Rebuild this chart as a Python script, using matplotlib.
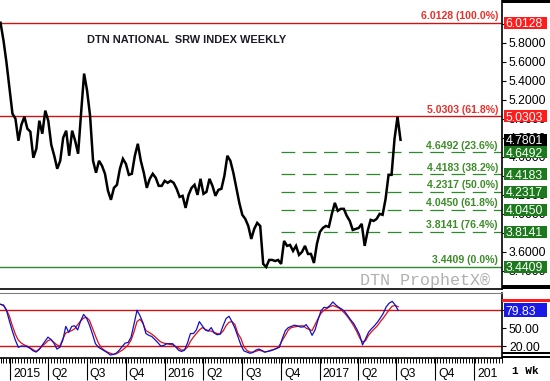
import matplotlib
matplotlib.use('Agg')
import matplotlib.pyplot as plt
import matplotlib.dates as mdates
from matplotlib.transforms import blended_transform_factory, ScaledTranslation, Bbox, TransformedBbox
from matplotlib.patches import Rectangle
import numpy as np
import pandas as pd

plt.rcParams['font.family'] = ['Liberation Sans', 'DejaVu Sans']

# weekly closes, DTN National SRW index
dates = pd.date_range('2014-12-10', periods=135, freq='7D')
price = [6.0128, 5.825, 5.593, 5.319, 5.055, 5.002, 4.770, 4.939, 5.023, 4.897,
         4.865, 4.591, 4.686, 4.981, 4.844, 5.087, 4.981, 4.728, 4.612, 4.475,
         4.559, 4.802, 4.876, 4.612, 4.876, 4.770, 4.633, 5.065, 5.477, 5.298,
         5.034, 4.559, 4.433, 4.559, 4.506, 4.422, 4.243, 4.148, 4.274, 4.306,
         4.475, 4.580, 4.527, 4.411, 4.422, 4.612, 4.738, 4.559, 4.433, 4.274,
         4.369, 4.422, 4.380, 4.295, 4.295, 4.348, 4.327, 4.348, 4.327, 4.264,
         4.179, 4.190, 4.063, 4.200, 4.274, 4.306, 4.200, 4.369, 4.211, 4.232,
         4.369, 4.295, 4.190, 4.253, 4.264, 4.401, 4.612, 4.559, 4.433, 4.274,
         4.116, 3.990, 3.947, 3.873, 3.736, 3.842, 3.905, 3.873, 3.473, 3.4409,
         3.515, 3.515, 3.504, 3.515, 3.473, 3.715, 3.663, 3.673, 3.610, 3.663,
         3.568, 3.599, 3.663, 3.578, 3.578, 3.483, 3.684, 3.810, 3.852, 3.873,
         3.863, 4.000, 4.116, 4.032, 4.053, 4.053, 3.979, 3.926, 3.831, 3.842,
         3.852, 3.895, 3.663, 3.821, 3.937, 3.926, 3.947, 4.000, 3.990, 4.158,
         4.411, 4.411, 4.791, 5.0225, 4.7801]

# stochastic oscillator (fast %K blue, slow %D red)
stoch_k = [90, 88, 80, 62, 45, 30, 18, 20, 20, 19, 16, 12, 10, 14, 21, 28, 35, 31, 25, 15,
           18, 30, 53, 43, 53, 54, 47, 62, 73, 67, 55, 40, 24, 18, 15, 12, 9, 5, 6, 8,
           13, 19, 25, 26, 35, 57, 80, 71, 59, 41, 38, 36, 31, 26, 20, 21, 24, 24, 24, 19,
           13, 11, 13, 25, 41, 41, 47, 61, 54, 47, 45, 51, 42, 39, 40, 54, 66, 70, 61, 50,
           36, 22, 12, 10, 8, 9, 13, 15, 13, 10, 11, 12, 14, 16, 18, 33, 46, 51, 53, 55,
           54, 52, 52, 56, 49, 38, 47, 64, 79, 85, 84, 88, 94, 89, 85, 82, 78, 71, 64, 58,
           49, 39, 22, 32, 43, 49, 54, 60, 67, 75, 86, 92, 95, 89, 79.83]
stoch_d = [90, 89, 81, 70, 54, 40, 30, 25, 22, 20, 17, 14, 11, 15, 20, 24, 29, 31, 26, 22,
           20, 32, 42, 44, 46, 49, 56, 62, 67, 68, 63, 50, 37, 25, 17, 13, 10, 8, 6, 7,
           10, 13, 17, 22, 30, 44, 61, 65, 58, 46, 43, 40, 36, 31, 27, 25, 24, 23, 22, 19,
           17, 13, 14, 18, 28, 35, 41, 47, 51, 48, 46, 45, 43, 41, 40, 45, 54, 60, 61, 56,
           41, 33, 19, 13, 10, 10, 11, 13, 12, 10, 11, 13, 14, 16, 21, 30, 38, 47, 51, 52,
           53, 54, 54, 50, 48, 46, 56, 66, 75, 80, 83, 86, 88, 86, 84, 80, 75, 69, 62, 54,
           45, 34, 27, 29, 38, 44, 49, 54, 61, 67, 74, 81, 87, 88, 86]

fib_levels = [6.0128, 5.0303, 4.6492, 4.4183, 4.2317, 4.0450, 3.8141, 3.4409]
fib_text = ['6.0128 (100.0%)', '5.0303 (61.8%)', '4.6492 (23.6%)', '4.4183 (38.2%)',
            '4.2317 (50.0%)', '4.0450 (61.8%)', '3.8141 (76.4%)', '3.4409 (0.0%)']
fib_kind = ['red', 'red', 'dash', 'dash', 'dash', 'dash', 'dash', 'base']

quarter_dates = pd.date_range('2015-01-01', '2018-01-01', freq='QS')
quarter_labels = ['2015', 'Q2', 'Q3', 'Q4', '2016', 'Q2', 'Q3', 'Q4',
                  '2017', 'Q2', 'Q3', 'Q4', '2018']

W, H = 550, 381
RED = '#cc1414'
RED_TXT = '#e8302c'
GREEN = '#2d8a2d'
GREEN_TXT = '#3d8c2a'
GREEN_BOX = '#1c7a1c'
FS = 8.8


def fy(py):
    return 1 - py / H


fig = plt.figure(figsize=(W / 100, H / 100), dpi=100)
ax = fig.add_axes([0, fy(289), 502 / W, 289 / H])
ax2 = fig.add_axes([0, fy(358), 502 / W, (358 - 293) / H])

x0 = mdates.date2num(dates[0])
xlim = (x0 - 1.2, x0 + 1176)

# ---- price panel
ax.plot(dates, price, color='black', lw=1.8, solid_joinstyle='miter', zorder=4)
ax.set_xlim(xlim)
ax.set_ylim(3.209, 6.252)
for s in ['left', 'top']:
    ax.spines[s].set_visible(False)
ax.spines['right'].set_linewidth(1.2)
ax.spines['bottom'].set_linewidth(1.2)
ax.set_xticks([])
ax.yaxis.tick_right()
ax.set_yticks(np.arange(3.4, 6.01, 0.2))
ax.yaxis.set_major_formatter(matplotlib.ticker.FormatStrFormatter('%.4f'))
ax.tick_params(axis='y', direction='out', length=3, width=0.8, pad=2, labelsize=FS)

low_i = int(np.argmin(price))
fib_start = dates[low_i + 5]
lab_tr = blended_transform_factory(ax.transAxes, ax.transData) + \
    ScaledTranslation(0, 3.5 / 100, fig.dpi_scale_trans)
for v, t, k in zip(fib_levels, fib_text, fib_kind):
    if k == 'red':
        ax.axhline(v, color=RED, lw=1.0)
        c = RED_TXT
    elif k == 'base':
        ax.axhline(v, color=GREEN, lw=1.0)
        c = GREEN_TXT
    else:
        ax.plot([fib_start, mdates.num2date(xlim[1])], [v, v], color=GREEN, lw=0.9,
                dashes=(11, 6))
        c = GREEN_TXT
    ax.text(0.992, v, t, transform=lab_tr, ha='right', va='baseline', color=c,
            fontsize=7.6, fontweight='bold')

ax.text(87 / 502, 1 - 40 / 289, 'DTN NATIONAL  SRW INDEX WEEKLY', transform=ax.transAxes,
        ha='left', va='center', fontsize=7.9, fontweight='bold', color='#1c1c28')
ax.text(490 / 502, 4 / 289, 'DTN ProphetX\u00ae', transform=ax.transAxes, ha='right',
        va='baseline', color='#b0b0b0', family='Liberation Mono', fontsize=12)

# ---- oscillator panel
ax2.plot(dates, stoch_k, color='#1010c8', lw=0.9, zorder=4)
ax2.plot(dates, stoch_d, color='#dd1010', lw=0.9, zorder=3)
ax2.axhline(80, color=RED, lw=1.0)
ax2.axhline(20, color=RED, lw=1.0)
ax2.set_xlim(xlim)
ax2.set_ylim(0, 109)
ax2.spines['left'].set_visible(False)
ax2.spines['top'].set_color('#808080')
ax2.spines['right'].set_linewidth(1.2)
ax2.spines['bottom'].set_linewidth(1.2)
ax2.yaxis.tick_right()
ax2.set_yticks([20, 50, 80])
ax2.yaxis.set_major_formatter(matplotlib.ticker.FormatStrFormatter('%.2f'))
ax2.tick_params(axis='y', direction='out', length=3, width=0.8, pad=2, labelsize=FS)

ax2.set_xticks(mdates.date2num(quarter_dates))
ax2.set_xticklabels([])
weeks = pd.date_range(dates[0], periods=170, freq='7D')
ax2.set_xticks(mdates.date2num(weeks), minor=True)
ax2.tick_params(axis='x', which='major', direction='out', length=16, width=0.8)
ax2.tick_params(axis='x', which='minor', direction='out', length=3.5, width=0.7)
q_tr = blended_transform_factory(ax2.transData, fig.transFigure) + \
    ScaledTranslation(3.2 / 100, 0, fig.dpi_scale_trans)
q_clip = TransformedBbox(Bbox([[0, 0], [497.5 / W, 1]]), fig.transFigure)
for d, lab in zip(quarter_dates, quarter_labels):
    t = ax2.text(d, fy(374), lab, transform=q_tr, ha='left', va='center', fontsize=FS)
    t.set_clip_box(q_clip)
    t.set_clip_on(True)

# ---- right column value boxes
fig.canvas.draw()


def value_box(axis, v, txt, fc, h=12):
    ypix = axis.transData.transform((x0, v))[1]
    yc = ypix / H
    fig.add_artist(Rectangle((504 / W, yc - h / 2 / H), 43 / W, h / H,
                             transform=fig.transFigure, fc=fc, ec='none', zorder=3))
    fig.text(505.5 / W, yc, txt, color='white', ha='left', va='center_baseline',
             fontsize=FS, zorder=4)


for v, k in zip(fib_levels, fib_kind):
    value_box(ax, v, '%.4f' % v, '#ff1c1c' if k == 'red' else GREEN_BOX)
value_box(ax, price[-1], '%.4f' % price[-1], 'black')
value_box(ax2, stoch_k[-1], '%.2f' % stoch_k[-1], '#1a1ae6', h=14)

bars = [(0, 3.2, 'black'), (285, 4, 'black'), (299, 3, '#ff1c1c'),
        (352, 1.5, 'black'), (355.5, 2.5, 'black')]
for top, hh, c in bars:
    fig.add_artist(Rectangle((502 / W, fy(top + hh)), 48 / W, hh / H,
                             transform=fig.transFigure, fc=c, ec='none', zorder=3))
fig.text(512 / W, fy(371), '1 Wk', ha='left', va='center', family='Liberation Mono',
         fontweight='bold', fontsize=8, zorder=4)

fig.savefig('out.png', dpi=100)
